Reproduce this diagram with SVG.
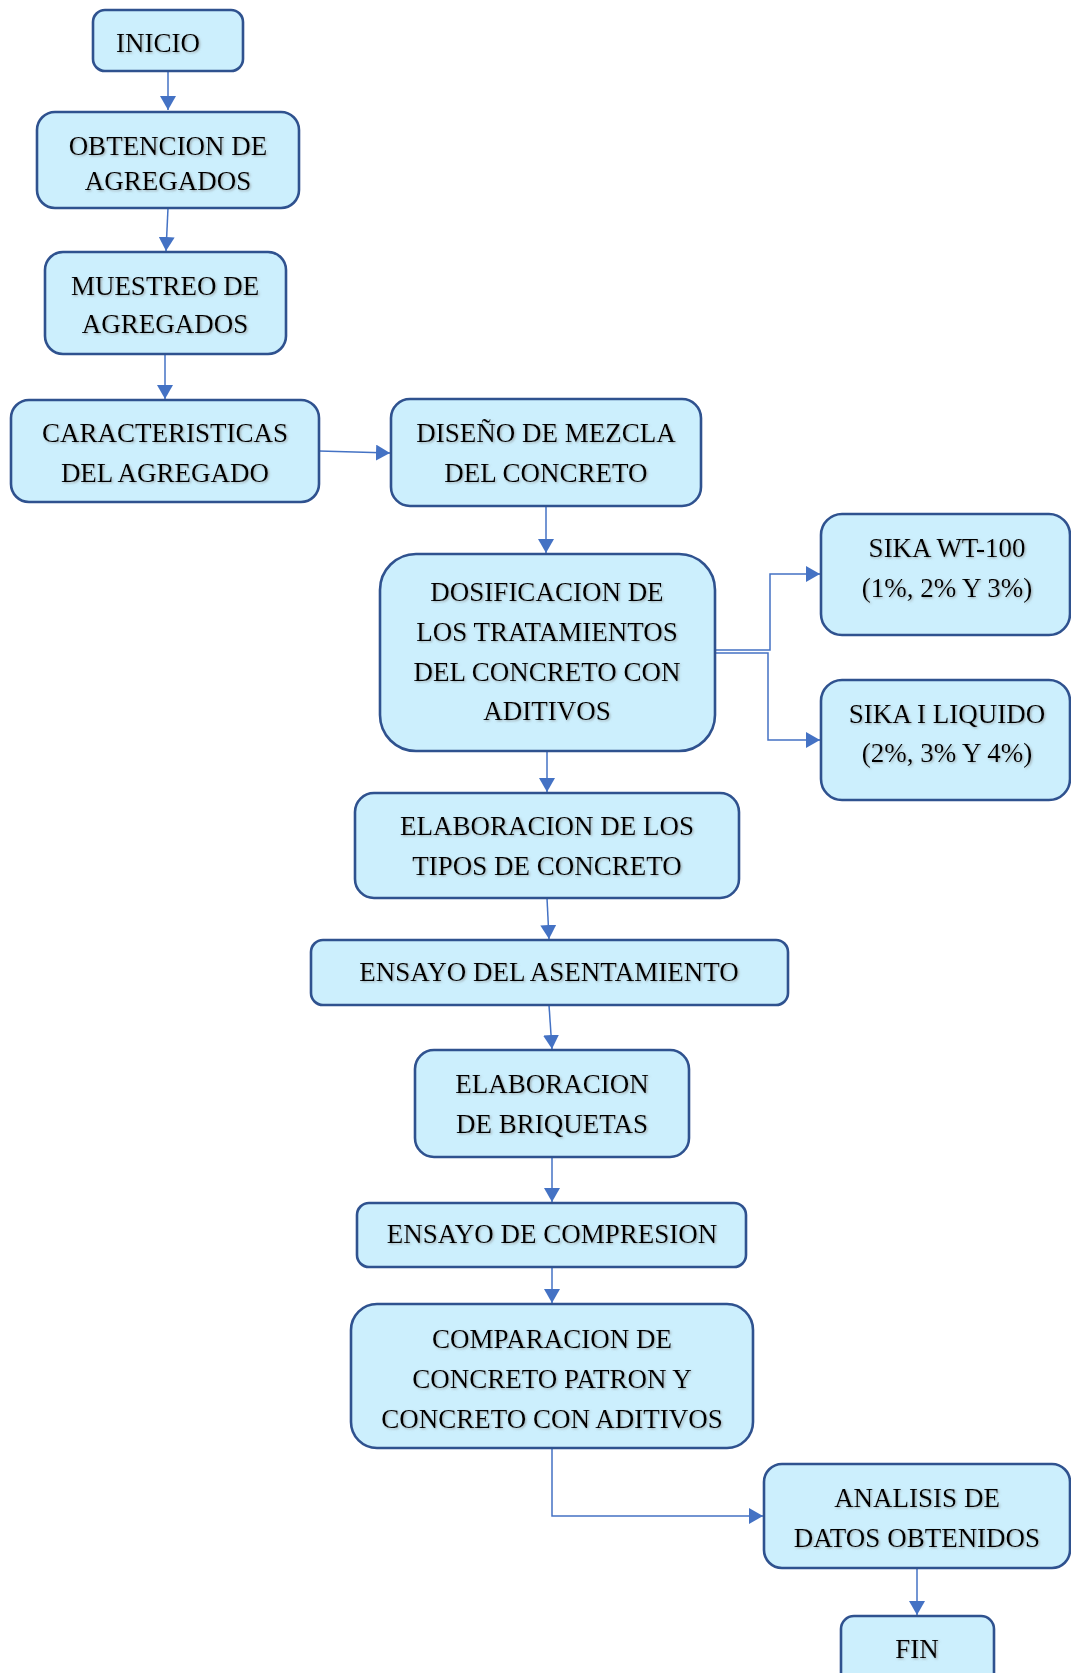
<svg xmlns="http://www.w3.org/2000/svg" width="1071" height="1673" viewBox="0 0 1071 1673">
<defs>
<style>
.box{fill:#CCEFFD;stroke:#2F528F;stroke-width:2.6}
.t{font-family:"Liberation Serif","Times New Roman",serif;font-size:27px;fill:#000;text-anchor:middle;filter:url(#sh)}
.c{fill:none;stroke:#4472C4;stroke-width:1.5}
</style>
<filter id="sh" x="-10%" y="-30%" width="120%" height="160%">
<feDropShadow dx="1.2" dy="1.2" stdDeviation="0.8" flood-color="#7f7f7f" flood-opacity="0.6"/>
</filter>
<marker id="ah" markerUnits="userSpaceOnUse" markerWidth="15" markerHeight="16" refX="14" refY="8" orient="auto">
<path d="M0,0 L14,8 L0,16 z" fill="#4472C4"/>
</marker>
</defs>
<rect width="1071" height="1673" fill="#fff"/>
<g id="connectors">
<path class="c" d="M168,71 V110" marker-end="url(#ah)"/>
<path class="c" d="M168,208 L166,251" marker-end="url(#ah)"/>
<path class="c" d="M165,354 V399" marker-end="url(#ah)"/>
<path class="c" d="M319,451 L390,453" marker-end="url(#ah)"/>
<path class="c" d="M546,506 V553" marker-end="url(#ah)"/>
<path class="c" d="M715,650 H770 V574 H820" marker-end="url(#ah)"/>
<path class="c" d="M715,653 H768 V740 H820" marker-end="url(#ah)"/>
<path class="c" d="M547,751 V792" marker-end="url(#ah)"/>
<path class="c" d="M547,898 L549,939" marker-end="url(#ah)"/>
<path class="c" d="M549,1005 L552,1049" marker-end="url(#ah)"/>
<path class="c" d="M552,1157 V1202" marker-end="url(#ah)"/>
<path class="c" d="M552,1267 V1303" marker-end="url(#ah)"/>
<path class="c" d="M552,1448 V1516 H763" marker-end="url(#ah)"/>
<path class="c" d="M917,1568 V1615" marker-end="url(#ah)"/>
</g>
<g id="inicio"><rect class="box" x="93" y="10" width="150" height="61" rx="12"/><text class="t" x="158" y="52">INICIO</text></g>
<g id="obtencion"><rect class="box" x="37" y="112" width="262" height="96" rx="18"/><text class="t" x="168" y="155">OBTENCION DE</text><text class="t" x="168" y="190">AGREGADOS</text></g>
<g id="muestreo"><rect class="box" x="45" y="252" width="241" height="102" rx="18"/><text class="t" x="165" y="295">MUESTREO DE</text><text class="t" x="165" y="333">AGREGADOS</text></g>
<g id="caracteristicas"><rect class="box" x="11" y="400" width="308" height="102" rx="18"/><text class="t" x="165" y="442">CARACTERISTICAS</text><text class="t" x="165" y="482">DEL AGREGADO</text></g>
<g id="diseno"><rect class="box" x="391" y="399" width="310" height="107" rx="19"/><text class="t" x="546" y="442">DISEÑO DE MEZCLA</text><text class="t" x="546" y="482">DEL CONCRETO</text></g>
<g id="dosificacion"><rect class="box" x="380" y="554" width="335" height="197" rx="36"/><text class="t" x="547" y="601">DOSIFICACION DE</text><text class="t" x="547" y="641">LOS TRATAMIENTOS</text><text class="t" x="547" y="681">DEL CONCRETO CON</text><text class="t" x="547" y="720">ADITIVOS</text></g>
<g id="sika_wt100"><rect class="box" x="821" y="514" width="249" height="121" rx="21"/><text class="t" x="947" y="557">SIKA WT-100</text><text class="t" x="947" y="597">(1%, 2% Y 3%)</text></g>
<g id="sika_i_liquido"><rect class="box" x="821" y="680" width="249" height="120" rx="21"/><text class="t" x="947" y="723">SIKA I LIQUIDO</text><text class="t" x="947" y="762">(2%, 3% Y 4%)</text></g>
<g id="elaboracion_tipos"><rect class="box" x="355" y="793" width="384" height="105" rx="19"/><text class="t" x="547" y="835">ELABORACION DE LOS</text><text class="t" x="547" y="875">TIPOS DE CONCRETO</text></g>
<g id="ensayo_asentamiento"><rect class="box" x="311" y="940" width="477" height="65" rx="12"/><text class="t" x="549" y="981">ENSAYO DEL ASENTAMIENTO</text></g>
<g id="elaboracion_briquetas"><rect class="box" x="415" y="1050" width="274" height="107" rx="19"/><text class="t" x="552" y="1093">ELABORACION</text><text class="t" x="552" y="1133">DE BRIQUETAS</text></g>
<g id="ensayo_compresion"><rect class="box" x="357" y="1203" width="389" height="64" rx="12"/><text class="t" x="552" y="1243">ENSAYO DE COMPRESION</text></g>
<g id="comparacion"><rect class="box" x="351" y="1304" width="402" height="144" rx="26"/><text class="t" x="552" y="1348">COMPARACION DE</text><text class="t" x="552" y="1388">CONCRETO PATRON Y</text><text class="t" x="552" y="1428">CONCRETO CON ADITIVOS</text></g>
<g id="analisis"><rect class="box" x="764" y="1464" width="306" height="104" rx="18"/><text class="t" x="917" y="1507">ANALISIS DE</text><text class="t" x="917" y="1547">DATOS OBTENIDOS</text></g>
<g id="fin"><rect class="box" x="841" y="1616" width="153" height="75" rx="13"/><text class="t" x="917" y="1658">FIN</text></g>
</svg>
